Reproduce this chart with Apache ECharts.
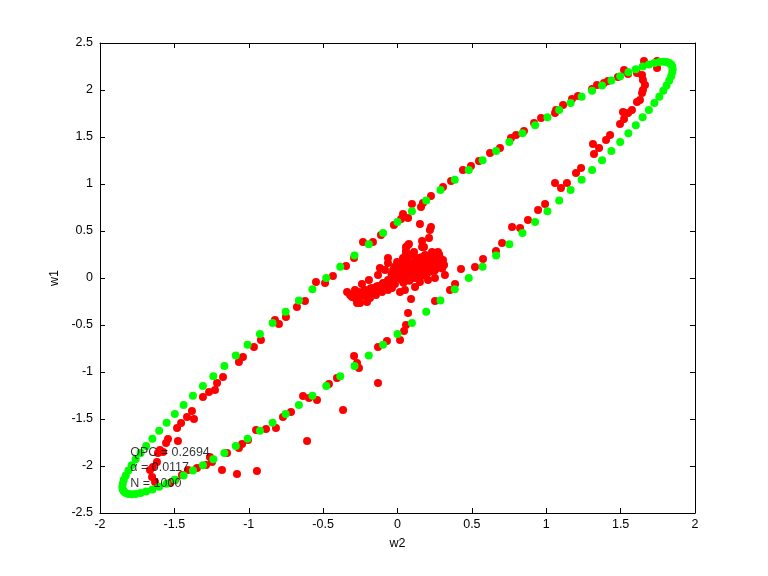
<!DOCTYPE html>
<html>
<head>
<meta charset="utf-8">
<script src="https://cdn.jsdelivr.net/npm/echarts@6/dist/echarts.min.js"></script>
<style>
html,body{margin:0;padding:0;background:#fff;}
#chart{width:768px;height:576px;}
</style>
</head>
<body>
<div id="chart"></div>
<script>
// ---- data ----
const xTicks = [-2, -1.5, -1, -0.5, 0, 0.5, 1, 1.5, 2];
const yTicks = [-2.5, -2, -1.5, -1, -0.5, 0, 0.5, 1, 1.5, 2, 2.5];

const greenW2 = [
 0, 0.097, 0.193, 0.289, 0.385, 0.479, 0.572, 0.663, 0.752, 0.840,
 0.925, 1.008, 1.087, 1.164, 1.238, 1.308, 1.375, 1.438, 1.497, 1.552,
 1.602, 1.648, 1.690, 1.727, 1.760, 1.787, 1.809, 1.827, 1.840, 1.847,
 1.850, 1.847, 1.840, 1.827, 1.809, 1.787, 1.760, 1.727, 1.690, 1.648,
 1.602, 1.552, 1.497, 1.438, 1.375, 1.308, 1.238, 1.164, 1.087, 1.008,
 0.925, 0.840, 0.752, 0.663, 0.572, 0.479, 0.385, 0.289, 0.193, 0.097,
 0, -0.097, -0.193, -0.289, -0.385, -0.479, -0.572, -0.663, -0.752, -0.840,
 -0.925, -1.008, -1.087, -1.164, -1.238, -1.308, -1.375, -1.438, -1.497, -1.552,
 -1.602, -1.648, -1.690, -1.727, -1.760, -1.787, -1.809, -1.827, -1.840, -1.847,
 -1.850, -1.847, -1.840, -1.827, -1.809, -1.787, -1.760, -1.727, -1.690, -1.648,
 -1.602, -1.552, -1.497, -1.438, -1.375, -1.308, -1.238, -1.164, -1.087, -1.008,
 -0.925, -0.840, -0.752, -0.663, -0.572, -0.479, -0.385, -0.289, -0.193, -0.097
];
const greenW1 = [
 0.595, 0.711, 0.824, 0.935, 1.044, 1.150, 1.253, 1.352, 1.447, 1.539,
 1.626, 1.709, 1.787, 1.861, 1.929, 1.992, 2.049, 2.101, 2.147, 2.188,
 2.222, 2.250, 2.272, 2.287, 2.297, 2.300, 2.297, 2.287, 2.272, 2.250,
 2.222, 2.188, 2.147, 2.101, 2.049, 1.992, 1.929, 1.861, 1.787, 1.709,
 1.626, 1.539, 1.447, 1.352, 1.253, 1.150, 1.044, 0.935, 0.824, 0.711,
 0.595, 0.478, 0.360, 0.240, 0.120, 0, -0.120, -0.240, -0.360, -0.478,
 -0.595, -0.711, -0.824, -0.935, -1.044, -1.150, -1.253, -1.352, -1.447, -1.539,
 -1.626, -1.709, -1.787, -1.861, -1.929, -1.992, -2.049, -2.101, -2.147, -2.188,
 -2.222, -2.250, -2.272, -2.287, -2.297, -2.300, -2.297, -2.287, -2.272, -2.250,
 -2.222, -2.188, -2.147, -2.101, -2.049, -1.992, -1.929, -1.861, -1.787, -1.709,
 -1.626, -1.539, -1.447, -1.352, -1.253, -1.150, -1.044, -0.935, -0.824, -0.711,
 -0.595, -0.478, -0.360, -0.240, -0.120, 0, 0.120, 0.240, 0.360, 0.478
];

const redW2 = [
 // top-right turn
 1.745, 1.657, 1.745, 1.523, 1.482, 1.550, 1.610, 1.644, 1.650, 1.664,
 1.650, 1.644, 1.630, 1.610, 1.576, 1.550, 1.516, 1.523, 1.496, 1.429,
 1.402, 1.314, 1.355, 1.321, 1.234, 1.200, 1.139, 1.099, 1.059,
 // lower branch
 0.992, 0.945, 0.877, 0.824, 0.770, 0.703, 0.662, 0.575, 0.521, 0.427,
 0.387, 0.353, 0.252, 0.118, 0.091, 0.071, 0.057, 0.044, 0.017, -0.071,
 -0.131, -0.131, -0.292, -0.272, -0.259, -0.407, -0.461, -0.366, -0.541, -0.595,
 -0.635, -0.608, -0.716, -0.770, -0.817, -0.884, -0.951, -1.005, -1.045, -1.066,
 -1.146, -0.945, -1.079, -1.180, -1.247, -1.287, -1.261, -1.348, -1.408, -1.449,
 -1.496, -1.529, -1.630, -1.650, -1.664, -1.644, -1.617,
 // upper branch
 1.415, 1.388, 1.341, 1.308, 1.213, 1.173, 1.113, 1.066, 1.059, 0.965,
 0.918, 0.850, 0.797, 0.763, 0.689, 0.622, 0.548, 0.494, 0.440, 0.360,
 0.306, 0.225, 0.171, 0.158, 0.097, 0.037, 0.071, 0.024, -0.024, -0.111,
 0.151, 0.225, 0.212, 0.165, 0.165, 0.077, 0.057, 0.057, -0.165, -0.232,
 -0.292, -0.346, -0.434, -0.487, -0.548, -0.622, -0.676, -0.750, -0.797, -0.824,
 -0.918, -0.965, -1.039, -1.066, -1.173, -1.213, -1.227, -1.267, -1.308, -1.382,
 -1.415, -1.368, -1.455, -1.482, -1.543, -1.556, -1.476, -1.597, -1.610, -1.576,
 // centre cluster
 -0.339, -0.306, -0.272, -0.239, -0.205, -0.185, -0.252, -0.218, -0.239, -0.192,
 -0.165, -0.131, -0.097, -0.131, -0.064, -0.037, -0.010, 0.017, 0.044, 0.071,
 0.097, 0.124, 0.151, 0.178, 0.205, 0.232, 0.259, 0.286, 0.306, 0.313,
 0.272, 0.218, 0.185, 0.138, 0.084, 0.030, -0.017, -0.064, -0.104, -0.145,
 -0.185, -0.286, -0.319, -0.064, -0.064, -0.003, 0.003, 0.037, 0.064, 0.084,
 0.111, 0.057, 0.071, 0.178, 0.218, 0.138, 0.185, 0.232, 0.272, 0.118,
 0.017, -0.030, -0.084, -0.118, 0.050, 0.017, -0.037, 0.151, 0.205, 0.252,
 0.319, 0.000, 0.050, 0.100, 0.150, 0.200, 0.250, -0.050, -0.100, -0.150,
 -0.200, -0.250, 0.100, 0.050, 0.000, 0.150, 0.200, 0.250, 0.100, 0.150,
 0.200, 0.250, 0.300,
 -0.300, -0.260, -0.220, -0.180, -0.140, -0.100, -0.060, -0.280, -0.220, -0.160,
 -0.100, -0.040, 0.020, 0.060, 0.100, 0.140, 0.180, 0.220, 0.260, 0.040,
 0.080, 0.120, 0.160, 0.200, 0.240, 0.280, 0.300, 0.260, 0.220, 0.180,
 0.120, 0.080, 0.040, 0.000, 0.060, -0.020, -0.040
];
const redW1 = [
 2.309, 2.309, 2.234, 2.213, 2.138, 2.170, 2.181, 2.160, 2.106, 2.053,
 2.000, 1.968, 1.894, 1.872, 1.787, 1.755, 1.766, 1.691, 1.638, 1.521,
 1.468, 1.426, 1.383, 1.319, 1.170, 1.117, 1.011, 0.957, 1.011,
 0.787, 0.723, 0.617, 0.532, 0.543, 0.372, 0.287, 0.202, 0.117, 0.096,
 -0.064, -0.128, -0.245, -0.096, -0.223, -0.372, -0.500, -0.564, -0.660, -0.670,
 -0.734, -1.117, -0.830, -0.904, -0.957, -1.064, -1.128, -1.404, -1.298, -1.277,
 -1.255, -1.734, -1.426, -1.479, -1.596, -1.606, -1.617, -1.723, -1.766, -1.809,
 -1.862, -2.053, -2.085, -2.043, -1.957, -1.989, -1.904, -2.021, -2.043, -2.096,
 -2.149, -2.181, -2.170, -2.117, -2.043, -2.011, -1.957,
 2.096, 2.074, 2.053, 2.011, 1.936, 1.904, 1.840, 1.787, 1.755, 1.702,
 1.649, 1.564, 1.521, 1.489, 1.383, 1.330, 1.245, 1.191, 1.149, 1.032,
 0.968, 0.872, 0.798, 0.755, 0.787, 0.681, 0.638, 0.628, 0.564, 0.457,
 0.574, 0.543, 0.426, 0.394, 0.330, 0.362, 0.330, 0.266, 0.383, 0.383,
 0.213, 0.128, 0.021, -0.053, -0.043, -0.245, -0.309, -0.415, -0.489, -0.447,
 -0.660, -0.734, -0.840, -0.894, -1.053, -1.117, -1.191, -1.213, -1.266, -1.415,
 -1.479, -1.500, -1.543, -1.596, -1.713, -1.755, -1.734, -1.830, -1.862, -1.851,
 -0.149, -0.202, -0.266, -0.191, -0.255, -0.213, -0.266, -0.128, -0.064, -0.021,
 -0.106, -0.085, -0.053, 0.032, -0.021, 0.000, 0.021, 0.043, 0.064, 0.085,
 0.106, 0.128, 0.149, 0.170, 0.170, 0.191, 0.213, 0.213, 0.191, 0.138,
 0.128, 0.106, 0.064, 0.043, 0.021, -0.021, -0.064, -0.128, -0.149, -0.181,
 -0.160, -0.128, -0.181, 0.213, 0.160, 0.170, 0.117, 0.213, 0.191, 0.245,
 0.277, 0.287, 0.351, 0.330, 0.511, 0.213, 0.245, 0.277, 0.277, 0.170,
 0.106, 0.085, 0.085, 0.106, -0.128, -0.149, -0.106, -0.043, -0.021, 0.000,
 0.032, 0.000, 0.020, 0.050, 0.080, 0.120, 0.150, -0.050, -0.100, -0.120,
 -0.150, -0.170, 0.150, 0.120, 0.080, 0.200, 0.200, 0.250, 0.000, 0.000,
 0.050, 0.080, 0.100,
 -0.170, -0.150, -0.130, -0.110, -0.090, -0.070, -0.050, -0.220, -0.190, -0.150,
 -0.120, -0.080, 0.000, 0.040, 0.080, 0.100, 0.130, 0.150, 0.170, 0.140,
 0.160, 0.200, 0.220, 0.240, 0.230, 0.250, 0.160, 0.100, 0.070, 0.030,
 0.000, -0.030, -0.050, 0.050, 0.100, 0.120, 0.040
];

const annotationLines = ['QPC = 0.2694', 'α = 0.0117', 'N = 1000'];
const annotationAt = [-1.8, -2.021];

// ---- chart ----
const FONT = '"Liberation Sans", Arial, Helvetica, sans-serif';
function pairs(xs, ys) { return xs.map((v, i) => [v, ys[i]]); }

const axisCommon = {
  type: 'value',
  axisLine: { show: true, onZero: false, lineStyle: { color: '#000', width: 1 } },
  axisTick: { show: true, inside: true, length: 5, lineStyle: { color: '#000', width: 1 } },
  splitLine: { show: false },
  axisLabel: { color: '#000', fontSize: 12.5, fontFamily: FONT, showMinLabel: true, showMaxLabel: true, hideOverlap: false },
  nameTextStyle: { color: '#000', fontSize: 12.5, fontFamily: FONT }
};

const chart = echarts.init(document.getElementById('chart'), null, { renderer: 'canvas' });
chart.setOption({
  animation: false,
  backgroundColor: '#fff',
  grid: { left: 100, right: 73, top: 43, bottom: 63, containLabel: false },
  xAxis: [
    Object.assign({}, axisCommon, {
      position: 'bottom', min: xTicks[0], max: xTicks[xTicks.length - 1], interval: 0.5,
      name: 'w2', nameLocation: 'middle', nameGap: 24,
      axisLabel: Object.assign({}, axisCommon.axisLabel, { margin: 5 })
    }),
    Object.assign({}, axisCommon, {
      position: 'top', min: xTicks[0], max: xTicks[xTicks.length - 1], interval: 0.5,
      axisLabel: { show: false }
    })
  ],
  yAxis: [
    Object.assign({}, axisCommon, {
      position: 'left', min: yTicks[0], max: yTicks[yTicks.length - 1], interval: 0.5,
      name: 'w1', nameLocation: 'middle', nameGap: 31,
      axisLabel: Object.assign({}, axisCommon.axisLabel, { margin: 7 })
    }),
    Object.assign({}, axisCommon, {
      position: 'right', min: yTicks[0], max: yTicks[yTicks.length - 1], interval: 0.5,
      axisLabel: { show: false }
    })
  ],
  series: [
    {
      name: 'red', type: 'scatter', xAxisIndex: 0, yAxisIndex: 0, z: 2,
      symbol: 'circle', symbolSize: 8,
      itemStyle: { color: '#ff0000', opacity: 1 },
      emphasis: { disabled: true },
      data: pairs(redW2, redW1)
    },
    {
      name: 'green', type: 'scatter', xAxisIndex: 0, yAxisIndex: 0, z: 3,
      symbol: 'circle', symbolSize: 8,
      itemStyle: { color: '#00ff00', opacity: 1 },
      emphasis: { disabled: true },
      data: pairs(greenW2, greenW1)
    },
    {
      name: 'annotation', type: 'scatter', xAxisIndex: 0, yAxisIndex: 0, z: 5,
      symbol: 'circle', symbolSize: 1, itemStyle: { color: 'rgba(0,0,0,0)' },
      silent: true,
      label: {
        show: true, position: 'right', distance: 0,
        formatter: annotationLines.join('\n'),
        color: '#000', fontSize: 12.5, fontFamily: FONT, lineHeight: 15.5, align: 'left',
        textBorderWidth: 0
      },
      data: [annotationAt]
    }
  ]
});
</script>
</body>
</html>
